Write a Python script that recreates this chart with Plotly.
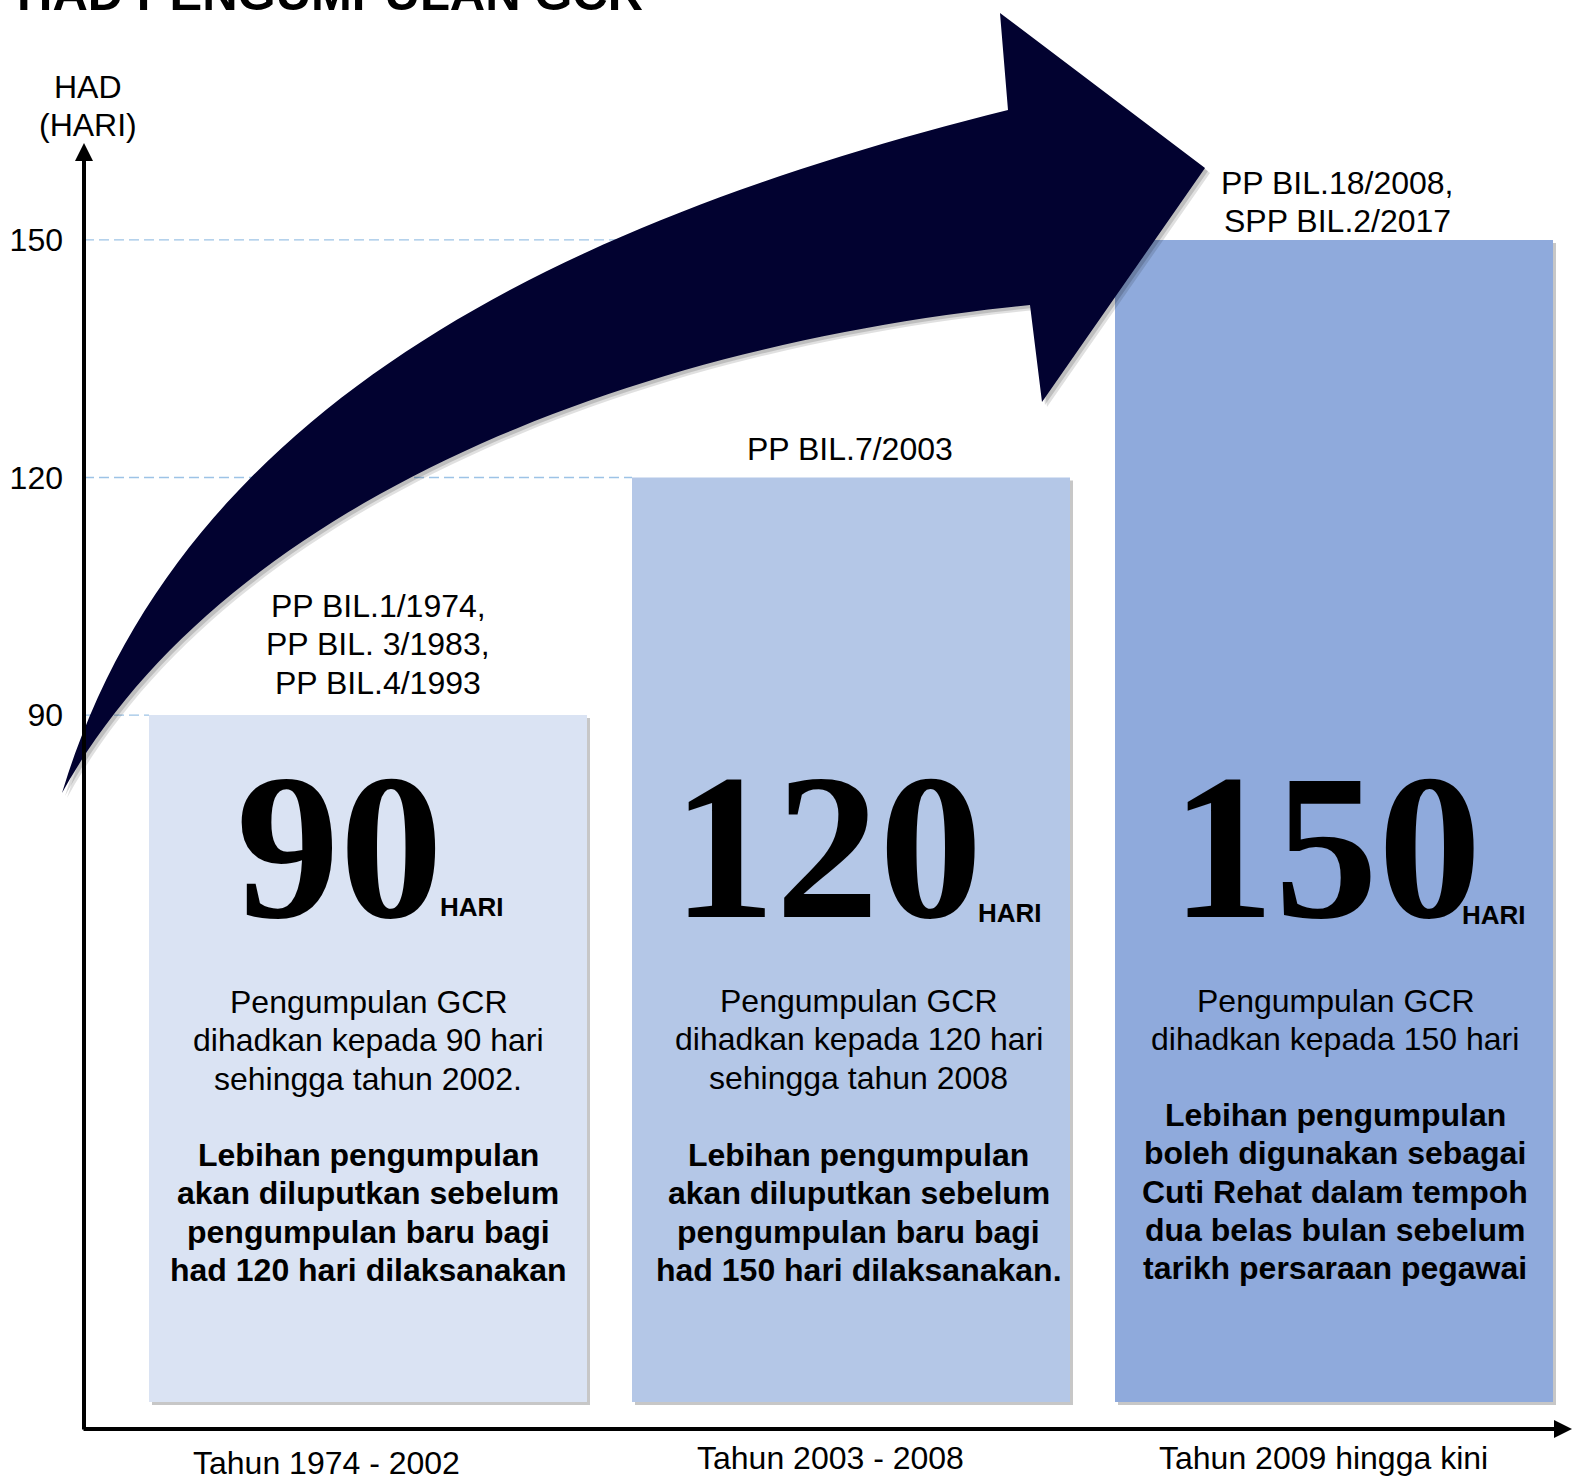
import plotly.graph_objects as go

W, H = 1574, 1479

# ---------------- data ----------------
periods = ["Tahun 1974 - 2002", "Tahun 2003 - 2008", "Tahun 2009 hingga kini"]
had_hari = [90, 120, 150]
y_ticks = [90, 120, 150]
circulars = [
    ["PP BIL.1/1974,", "PP BIL. 3/1983,", "PP BIL.4/1993"],
    ["PP BIL.7/2003"],
    ["PP BIL.18/2008,", "SPP BIL.2/2017"],
]
desc_normal = [
    ["Pengumpulan GCR", "dihadkan kepada 90 hari", "sehingga tahun 2002."],
    ["Pengumpulan GCR", "dihadkan kepada 120 hari", "sehingga tahun 2008"],
    ["Pengumpulan GCR", "dihadkan kepada 150 hari"],
]
desc_bold = [
    ["Lebihan pengumpulan", "akan diluputkan sebelum", "pengumpulan baru bagi", "had 120 hari dilaksanakan"],
    ["Lebihan pengumpulan", "akan diluputkan sebelum", "pengumpulan baru bagi", "had 150 hari dilaksanakan."],
    ["Lebihan pengumpulan", "boleh digunakan sebagai", "Cuti Rehat dalam tempoh", "dua belas bulan sebelum", "tarikh persaraan pegawai"],
]
bar_colors = ["#DAE3F3", "#B4C7E7", "#8FAADC"]
ARROW_COLOR = "#020230"
GRID_COLOR = "#9DC3E6"
SANS = "Liberation Sans, Arial, sans-serif"
SERIF = "Liberation Serif, Times New Roman, serif"

# ---------------- geometry helpers (pixel <-> data/paper) ----------------
X0_PX, X_STEP = 368, 483
Y_REF_VAL, Y_REF_PX, PX_PER_UNIT = 120, 477.5, 7.92
AXIS_X_PX, AXIS_Y_PX = 84, 1429
BAR_W = 438 / X_STEP
BAR_BASE_PX = 1402
TY = 3  # text baseline nudge


def dx(px):
    return (px - X0_PX) / X_STEP


def dy(py):
    return Y_REF_VAL - (py - Y_REF_PX) / PX_PER_UNIT


def pxp(px):
    return px / W


def pyp(py):
    return 1 - py / H


bar_base = dy(BAR_BASE_PX)
idx = list(range(len(had_hari)))

fig = go.Figure()

# dashed guide lines from axis to bar left edge
for i, v in zip(idx, had_hari):
    fig.add_trace(go.Scatter(
        x=[dx(AXIS_X_PX), i - BAR_W / 2], y=[v, v], mode="lines",
        line=dict(color=GRID_COLOR, width=1.3, dash="10px,5px"),
        hoverinfo="skip", showlegend=False))

# bar shadows
fig.add_trace(go.Bar(
    x=[i + 3 / X_STEP for i in idx], y=[v - bar_base for v in had_hari],
    base=bar_base - 3 / PX_PER_UNIT, width=BAR_W,
    marker=dict(color="rgba(0,0,0,0.22)", line=dict(width=0)),
    hoverinfo="skip", showlegend=False))
# bars
fig.add_trace(go.Bar(
    x=idx, y=[v - bar_base for v in had_hari], base=bar_base, width=BAR_W,
    marker=dict(color=bar_colors, line=dict(width=0)),
    hoverinfo="skip", showlegend=False))


# ---------------- curved arrow (decoration) ----------------
def bezier(p0, p1, p2, p3, n=60):
    pts = []
    for k in range(n + 1):
        t = k / n
        a, b, c, d = (1 - t) ** 3, 3 * t * (1 - t) ** 2, 3 * t * t * (1 - t), t ** 3
        pts.append((a * p0[0] + b * p1[0] + c * p2[0] + d * p3[0],
                    a * p0[1] + b * p1[1] + c * p2[1] + d * p3[1]))
    return pts


outer = bezier((62, 793), (182, 393), (588, 215), (1008, 110))
head = [(1000, 13), (1205, 168), (1042, 402)]
inner = bezier((1030, 305), (610, 347), (216, 513), (62, 793))
arrow_pts = outer + head + inner


def path_of(pts, ox=0, oy=0):
    return "M " + " L ".join(f"{pxp(x + ox):.5f},{pyp(y + oy):.5f}" for x, y in pts) + " Z"


shapes = [
    dict(type="path", path=path_of(arrow_pts, 5, 5), xref="paper", yref="paper",
         fillcolor="rgba(0,0,0,0.12)", line=dict(width=0), layer="above"),
    dict(type="path", path=path_of(arrow_pts, 3, 3), xref="paper", yref="paper",
         fillcolor="rgba(0,0,0,0.15)", line=dict(width=0), layer="above"),
    dict(type="path", path=path_of(arrow_pts), xref="paper", yref="paper",
         fillcolor=ARROW_COLOR, line=dict(width=0), layer="above"),
]

# ---------------- annotations ----------------
ann = []


def txt(text, xpx, ypx, size, bold=False, family=SANS):
    ann.append(dict(text=f"<b>{text}</b>" if bold else text, x=pxp(xpx), y=pyp(ypx),
                    xref="paper", yref="paper", showarrow=False, xanchor="center", yanchor="middle",
                    font=dict(size=size, family=family, color="black")))


# title (cropped at top)
ann.append(dict(text="<b>HAD PENGUMPULAN GCR</b>", x=pxp(15), y=pyp(-7), xref="paper", yref="paper",
                showarrow=False, xanchor="left", yanchor="middle",
                font=dict(size=49, family=SANS, color="black")))

# axis title
txt("HAD", 88, 84 + TY, 32)
txt("(HARI)", 88, 122 + TY, 32)

# axes as arrows
ann.append(dict(x=dx(AXIS_X_PX), y=dy(143), ax=dx(AXIS_X_PX), ay=dy(AXIS_Y_PX + 2),
                xref="x", yref="y", axref="x", ayref="y", text="", showarrow=True,
                arrowhead=2, arrowsize=0.9, arrowwidth=4, arrowcolor="black"))
ann.append(dict(x=dx(1572), y=dy(AXIS_Y_PX), ax=dx(AXIS_X_PX - 2), ay=dy(AXIS_Y_PX),
                xref="x", yref="y", axref="x", ayref="y", text="", showarrow=True,
                arrowhead=2, arrowsize=0.9, arrowwidth=4, arrowcolor="black"))

LINE = 38.3
circ_x = [378, 850, 1337]
circ_y0 = [603, 446, 180]
desc_x = [368, 859, 1335]
desc_y0 = [999, 998, 998]
gap = [1152, 1152, 1112]
num_x = [339, 827, 1326]
num_y = 847
hari_pos = [(472, 904), (1010, 910), (1494, 912)]
period_pos = [(326, 1460), (830, 1455), (1323, 1455)]

for i in idx:
    for k, line in enumerate(circulars[i]):
        txt(line, circ_x[i], circ_y0[i] + k * LINE + TY, 32)
    for k, line in enumerate(desc_normal[i]):
        txt(line, desc_x[i], desc_y0[i] + k * LINE + TY, 32)
    for k, line in enumerate(desc_bold[i]):
        txt(line, desc_x[i], gap[i] + k * LINE + TY, 32, bold=True)
    txt(f"<b>{had_hari[i]}</b>", num_x[i], num_y, 207, family=SERIF)
    txt("HARI", hari_pos[i][0], hari_pos[i][1] + TY, 26, bold=True)
    txt(periods[i], period_pos[i][0], period_pos[i][1] + TY, 32)

fig.update_layout(
    width=W, height=H, margin=dict(l=0, r=0, t=0, b=0),
    paper_bgcolor="white", plot_bgcolor="white", barmode="overlay",
    showlegend=False, shapes=shapes, annotations=ann,
    xaxis=dict(domain=[AXIS_X_PX / W, 1], range=[dx(AXIS_X_PX), dx(W)],
               showgrid=False, zeroline=False, showticklabels=False, ticks="", showline=False),
    yaxis=dict(range=[dy(H), dy(0)], tickvals=y_ticks, ticktext=[str(t) for t in y_ticks],
               showgrid=False, zeroline=False, ticks="", showline=False,
               ticklabelstandoff=20, tickfont=dict(size=32, family=SANS, color="black")),
)

fig.write_html("out.html", config={"displayModeBar": False},
               post_script="document.body.style.margin='0px';")
